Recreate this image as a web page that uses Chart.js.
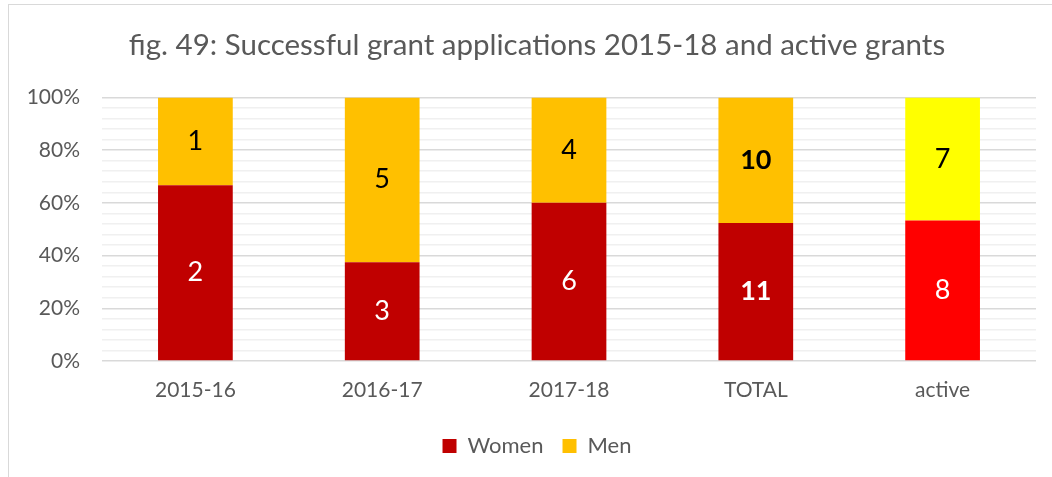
<!DOCTYPE html>
<html>
<head>
<meta charset="utf-8">
<script src="https://cdn.jsdelivr.net/npm/chart.js@4.4.1/dist/chart.umd.min.js"></script>
<style>
  html, body { margin: 0; padding: 0; background: #fff; overflow: hidden; }
  #wrap { position: relative; width: 1052px; height: 477px; overflow: hidden; }
  #grantChart { position: absolute; left: 8px; top: 0; }
  #frame { position: absolute; left: 8px; top: 4px; width: 1060px; height: 490px;
           border-left: 1px solid #d9d9d9; border-top: 1px solid #d9d9d9; pointer-events: none; }
</style>
</head>
<body>
<div id="wrap">
  <canvas id="grantChart" width="1058" height="477"></canvas>
  <div id="frame"></div>
</div>
<script>
// Successful grant applications per period (head counts)
const periods = ['2015-16', '2016-17', '2017-18', 'TOTAL', 'active'];
const women = [2, 3, 6, 11, 8];
const men = [1, 5, 4, 10, 7];

const womenColors = ['#C00000', '#C00000', '#C00000', '#C00000', '#FF0000'];
const menColors = ['#FFC000', '#FFC000', '#FFC000', '#FFC000', '#FFFF00'];

// 100% stacked: share of each group within the period
const womenPct = women.map((w, i) => w / (w + men[i]) * 100);
const menPct = men.map((m, i) => m / (women[i] + m) * 100);

const FONT = 'Lato, "Open Sans", sans-serif';

// draws the head count in the middle of each segment
const countLabels = {
    id: 'countLabels',
    afterDatasetsDraw(chart) {
        const ctx = chart.ctx;
        const sources = [women, men];
        ctx.save();
        ctx.textAlign = 'center';
        ctx.textBaseline = 'middle';
        chart.data.datasets.forEach((ds, di) => {
            chart.getDatasetMeta(di).data.forEach((bar, i) => {
                const bold = periods[i] === 'TOTAL';
                ctx.font = (bold ? 'bold ' : '') + '27px ' + FONT;
                ctx.fillStyle = di === 0 ? '#ffffff' : '#000000';
                const y = (bar.y + bar.base) / 2;
                ctx.fillText(String(sources[di][i]), bar.x, y);
            });
        });
        ctx.restore();
    }
};

new Chart(document.getElementById('grantChart'), {
    type: 'bar',
    data: {
        labels: periods,
        datasets: [
            {
                label: 'Women',
                data: womenPct,
                backgroundColor: womenColors,
                barPercentage: 0.4,
                categoryPercentage: 1
            },
            {
                label: 'Men',
                data: menPct,
                backgroundColor: menColors,
                barPercentage: 0.4,
                categoryPercentage: 1
            }
        ]
    },
    options: {
        responsive: false,
        animation: false,
        layout: { padding: { left: 0, right: 0, top: 0, bottom: 10 } },
        plugins: {
            tooltip: { enabled: false },
            title: {
                display: true,
                text: 'fig. 49: Successful grant applications 2015-18 and active grants',
                color: '#595959',
                font: { family: FONT, size: 29.5, weight: 'normal' },
                padding: { top: 28, bottom: 34 }
            },
            legend: {
                position: 'bottom',
                labels: {
                    color: '#595959',
                    font: { family: FONT, size: 22 },
                    boxWidth: 14,
                    boxHeight: 14,
                    padding: 19,
                    generateLabels: () => [
                        { text: 'Women', fillStyle: '#C00000', strokeStyle: '#C00000', lineWidth: 0, fontColor: '#595959', datasetIndex: 0 },
                        { text: 'Men', fillStyle: '#FFC000', strokeStyle: '#FFC000', lineWidth: 0, fontColor: '#595959', datasetIndex: 1 }
                    ]
                }
            }
        },
        scales: {
            x: {
                stacked: true,
                afterFit: s => { s.height = 55; },
                grid: { display: false, drawTicks: false },
                border: { display: false },
                ticks: {
                    color: '#595959',
                    font: { family: FONT, size: 21 },
                    padding: 17
                }
            },
            y: {
                stacked: true,
                min: 0,
                max: 100,
                afterFit: s => { s.width = 94; },
                border: { display: false },
                grid: {
                    drawTicks: false,
                    lineWidth: 1.5,
                    color: c => (c.tick && c.tick.value % 20 === 0) ? '#d9d9d9' : '#f0f0f0'
                },
                ticks: {
                    stepSize: 4,
                    autoSkip: false,
                    padding: 22,
                    color: '#595959',
                    font: { family: FONT, size: 21 },
                    callback: v => v % 20 === 0 ? v + '%' : ''
                }
            },
            // empty right-hand gutter so the plot stops short of the frame edge
            gutter: {
                position: 'right',
                afterFit: s => { s.width = 30; },
                grid: { display: false, drawTicks: false },
                border: { display: false },
                ticks: { display: false }
            }
        }
    },
    plugins: [countLabels]
});
</script>
</body>
</html>
